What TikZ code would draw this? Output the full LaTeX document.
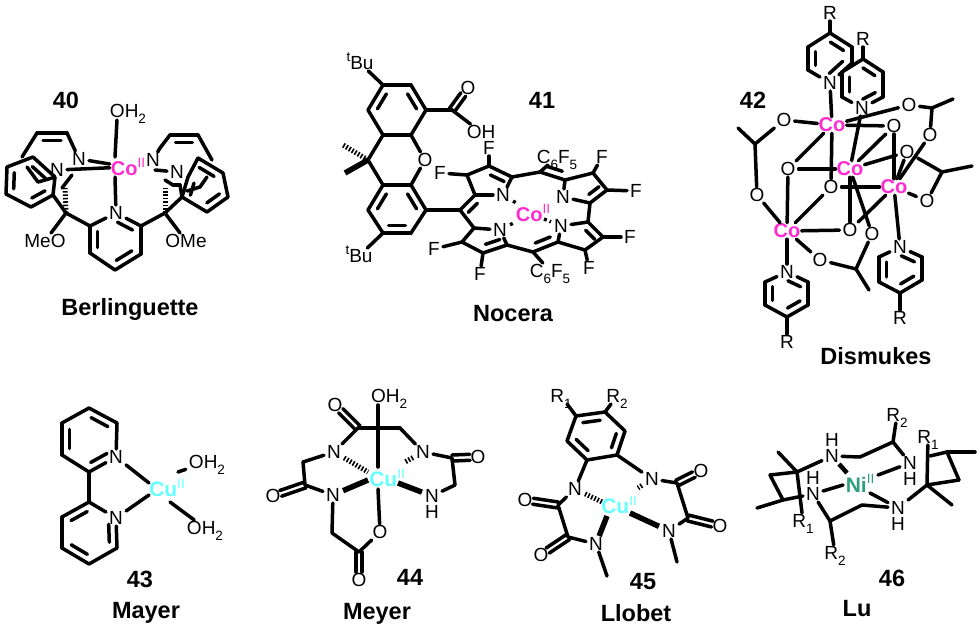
\documentclass[tikz,border=0pt]{standalone}
\usepackage{fontspec}
\setmainfont{Liberation Sans}
\usetikzlibrary{calc}
\definecolor{copink}{HTML}{FF2BD0}
\definecolor{cucyan}{HTML}{66FFFF}
\definecolor{nigreen}{HTML}{2E9E80}
\newcommand\lsub[1]{\raisebox{-.28em}{\fontsize{13.5}{13.5}\selectfont #1}}
\newcommand\lsup[1]{\raisebox{.42em}{\fontsize{13.5}{13.5}\selectfont #1}}
\newcommand\metal[2]{{\bfseries #1}\lsup{#2}}
\newcommand\coords[1]{\foreach \cn/\cx/\cy in {#1}{\coordinate (\cn) at (\cx,\cy);}}
\newcommand\bonds[1]{\foreach \ca/\cb in {#1}{\draw[bond] (\ca) -- (\cb);}}
\newcommand\inbonds[1]{\foreach \ca/\cb in {#1}{\draw[bond] ($(\ca)!.2!(\cb)!7.5pt!-90:(\cb)$) -- ($(\cb)!.2!(\ca)!7.5pt!90:(\ca)$);}}
\newcommand\dbo[2]{\draw[bond,shorten >=8pt] ($(#1)!3pt!90:(#2)$) -- ($(#2)!3pt!-90:(#1)$);\draw[bond,shorten >=8pt] ($(#1)!3pt!-90:(#2)$) -- ($(#2)!3pt!90:(#1)$);}
\newcommand\atoms[1]{\foreach \cn/\cx/\cy/\ct in {#1}{\node[atom] (\cn) at (\cx,\cy) {\ct};}}
\tikzset{
  bond/.style={line width=3.5pt,line cap=round,line join=round,black},
  wedgebond/.style={line width=5.5pt,black,line cap=butt},
  hashbond/.style={line width=5pt,black,dash pattern=on 1.6pt off 1.8pt},
  dotbond/.style={line width=3.4pt,black,dash pattern=on 3pt off 3pt},
  atom/.style={font=\fontsize{19}{19}\selectfont,inner xsep=3pt,inner ysep=1pt,text=black,text height=13.6pt,text depth=0pt},
  title/.style={font=\bfseries\fontsize{23.5}{23.5}\selectfont,inner sep=0pt},
  colabel/.style={font=\fontsize{20}{20}\selectfont,inner sep=1pt,text=copink},
  culabel/.style={font=\fontsize{21}{21}\selectfont,inner sep=1pt,text=cucyan},
  nilabel/.style={font=\fontsize{21}{21}\selectfont,inner sep=1pt,text=nigreen}
}
\begin{document}
\begin{tikzpicture}[x=1pt,y=-1pt]
\useasboundingbox (0,0) rectangle (980,632);
% ---------------- 40
\node[title] (t40) at (66,100) {40};
\node[title] (nBerl) at (130,309) {Berlinguette};
\node[colabel] (aCo) at (128,167) {\metal{Co}{II}};
\atoms{aOw/128/111/OH\lsub{2},aNu/79/159/N,aNl/57/170/N,aRu/153/160/N,aRl/177/172/N,aN/116/213/N,aOL/45/241/MeO,aOR/186/241/OMe}
\coords{a2/90/226,a3/90/253,a4/115/270,a5/141/254,a6/141/226,aqL/66/213,aqR/165/213,
 aX1/117/120,aX2/115/157,aX3/115/177,
 alp1/7/167,alp2/33/157,alp3/55/177,alp4/53/195,alp5/31/207,alp6/6/194,
 arp1/198/158,arp2/223/173,arp3/228/197,arp4/207/212,arp5/182/197,arp6/188/177,
 al1/22/157,al2/37/133,al3/67/133,al4/27/167,al5/38/182,al6/52/178,a7/72/175,a8/62/188,aH1/65/188,
 ar1/160/148,ar2/170/135,ar3/198/135,ar4/212/160,ar5/165/180,ar6/173/185,ar7/180/185,ar8/187/191,ar9/200/187,ar10/207/177,aH2/165/187,aRm/155/170}
\bonds{aX1/aX2,aX3/aN,aNu/aCo,aNl/aCo,aRm/aRl,aN/a6,a6/a5,a5/a4,a4/a3,a3/a2,a2/aN,a2/aqL,a6/aqR,aqL/aOL,aqR/aOR,
 alp1/alp2,alp2/alp3,alp3/alp4,alp4/alp5,alp5/alp6,alp6/alp1,alp4/aqL,
 arp1/arp2,arp2/arp3,arp3/arp4,arp4/arp5,arp5/arp6,arp6/arp1,arp5/aqR,
 al1/al2,al2/al3,al3/aNu,al4/al5,al5/al6,al6/aNl,a7/a8,
 ar1/ar2,ar2/ar3,ar3/ar4,ar1/aRu,ar5/ar6,ar6/ar7,ar7/arp5,ar8/ar9,ar9/ar10}
\inbonds{aN/a6,a5/a4,a3/a2,alp6/alp1,alp2/alp3,alp4/alp5,arp1/arp2,arp3/arp4,arp5/arp6,al2/al3,ar2/ar3}
\draw[hashbond] (aqL) -- (aH1);
\draw[hashbond] (aqR) -- (aH2);
% ---------------- 41
\node[title] (t41) at (542,100) {41};
\node[title] (nNoc) at (513,314) {Nocera};
\node[colabel] (bCo) at (533,213) {\metal{Co}{II}};
\atoms{bT1/360/63/\lsup{t}Bu,bT2/359/256/\lsup{t}Bu,bOc/468/88/O,bOH/481/132/OH,bO/425/160/O,
 bN1/503/195/N,bN2/500/230/N,bN3/563/197/N,bN4/561/226/N,
 bF1/440/173/F,bF2/489/148/F,bF3/602/157/F,bF4/636/191/F,bF5/630/237/F,bF6/589/268/F,bF7/480/274/F,bF8/434/249/F,
 bCa/557/157/C\lsub{6}F\lsub{5},bCb/550/271/C\lsub{6}F\lsub{5}}
\coords{b1/383/85,b2/411/85,b3/426/110,b4/411/135,b5/383/135,b6/368/110,
 b7/383/185,b8/411/185,b9/426/210,b10/411/233,b11/383/233,b12/368/210,
 bq/368/160,bM1/343/145,bM2/345/173,bC/452/110,bm0/460/210,
 u1/475/195,u2/467/175,u3/489/166,u4/512/177,
 l1/474/228,l2/462/242,l3/483/253,l4/507/245,
 bmt/540/172,bmb/533/252,
 v1/565/180,v2/593/173,v3/607/190,v4/590/203,
 w1/588/222,w2/603/237,w3/585/250,w4/558/242,bd1/544/219}
\bonds{b1/b2,b2/b3,b3/b4,b4/b5,b5/b6,b6/b1,b1/bT1,b3/bC,bC/bOH,b5/bq,bq/b7,b4/bO,bO/b8,
 b7/b8,b8/b9,b9/b10,b10/b11,b11/b12,b12/b7,b11/bT2,b9/bm0,
 bm0/u1,u1/u2,u2/u3,u3/u4,u4/bN1,bN1/u1,bm0/l1,l1/l2,l2/l3,l3/l4,l4/bN2,bN2/l1,
 u4/bmt,bmt/v1,v1/v2,v2/v3,v3/v4,v4/bN3,bN3/v1,v4/w1,w1/w2,w2/w3,w3/w4,w4/bN4,bN4/w1,
 l4/bmb,bmb/w4,u2/bF1,u3/bF2,v2/bF3,v3/bF4,w2/bF5,w3/bF6,l3/bF7,l2/bF8,bmt/bCa,bmb/bCb}
\dbo{bC}{bOc}
\inbonds{b6/b1,b2/b3,b8/b9,b10/b11,b12/b7,u3/u4,v3/v4,v1/bmt,w1/w2,w4/bmb,l4/l3,bm0/u1}
\draw[hashbond] (bq) -- (bM1);
\draw[wedgebond] (bq) -- (bM2);
\foreach \ca in {bN1,bN2}{\draw[dotbond] (\ca) -- (bCo);}
\draw[dotbond] (bd1) -- (bN4);
% ---------------- 42
\node[title] (t42) at (753,100) {42};
\node[title] (nDis) at (876,356) {Dismukes};
\node[colabel] (c1) at (832,125) {\metal{Co}{}};
\node[colabel] (c2) at (850,169) {\metal{Co}{}};
\node[colabel] (c3) at (894,187) {\metal{Co}{}};
\node[colabel] (c4) at (787,231) {\metal{Co}{}};
\atoms{o1/784/120/O,o2/788/169/O,o3/757/195/O,o4/831/187/O,o5/850/230/O,o6/872/234/O,o7/820/260/O,o8/927/201/O,o9/907/152/O,o10/930/135/O,o11/909/105/O,o12/894/126/O,
 n1/830/83/N,n2/862/108/N,n3/900/247/N,n4/787/272/N,R1/830/13/R,R2/863/39/R,R3/900/318/R,R4/787/342/R}
\coords{p1/830/33,p2/852/47,p3/852/63,p5/808/70,p6/808/47,
 q1/863/59,q2/883/72,q3/883/97,q5/842/97,q6/842/72,
 r2/922/257,r3/922/280,r4/900/293,r5/879/282,r6/879/257,
 s2/808/282,s3/808/305,s4/787/317,s5/765/305,s6/765/282,
 cA/755/144,cAm/738/128,cB/856/269,cBm/869/290,cC/932/108,cCm/953/99,cD/942/172,cDm/972/166}
\bonds{R1/p1,p1/p2,p2/p3,p3/n1,n1/p5,p5/p6,p6/p1,n1/c1,
 R2/q1,q1/q2,q2/q3,q3/n2,n2/q5,q5/q6,q6/q1,n2/c2,
 n3/r2,r2/r3,r3/r4,r4/r5,r5/r6,r6/n3,r4/R3,n3/c3,
 n4/s2,s2/s3,s3/s4,s4/s5,s5/s6,s6/n4,s4/R4,n4/c4,
 o1/c1,o1/cA,cA/cAm,cA/o3,o3/c4,o7/c4,o7/cB,cB/cBm,cB/o6,o6/c2,
 c1/o11,o11/cC,cC/cCm,cC/o10,o10/c3,o9/cD,cD/cDm,cD/o8,o8/c3,
 o9/c3,o9/c2,o12/c3,o12/c2,o12/c1,c1/o2,c1/o4,o2/c2,o2/c4,c4/o4,c4/o5,c2/o5,o4/c3,c3/o5}
\inbonds{p1/p2,p3/n1,p5/p6,q1/q2,q3/n2,q5/q6,n3/r2,r3/r4,r5/r6,n4/s2,s3/s4,s5/s6}
% ---------------- 43
\node[title] (t43) at (140,579) {43};
\node[title] (nMay) at (146,613) {Mayer};
\node[culabel] (dCu) at (167,488) {\metal{Cu}{II}};
\atoms{dN1/116/457/N,dN2/116/518/N,dO1/207/462/OH\lsub{2},dO2/205/528/OH\lsub{2}}
\coords{d1/89/472,d2/62/455,d3/62/423,d4/89/408,d5/117/423,
 d6/89/502,d7/62/517,d8/62/548,d9/89/564,d10/117/548,
 dA/149/483,dB/149/495,dC/178/472,dD/170/502}
\bonds{d1/d2,d2/d3,d3/d4,d4/d5,d5/dN1,dN1/d1,d1/d6,d6/d7,d7/d8,d8/d9,d9/d10,d10/dN2,dN2/d6,dN1/dA,dN2/dB,dC/dO1,dD/dO2}
\inbonds{dN1/d1,d2/d3,d4/d5,d7/d6,d9/d8,dN2/d10}
% ---------------- 44
\node[title] (t44) at (410,577) {44};
\node[title] (nMey) at (377,614) {Meyer};
\node[culabel] (eCu) at (387,478) {\metal{Cu}{II}};
\atoms{eOw/389/396/OH\lsub{2},eO1/335/405/O,eN1/334/452/N,eN2/333/495/N,eO2/273/496/O,eN3/423/452/N,eO3/478/457/O,eN4/432/496/N,eH/432/512/H,eO4/380/532/O,eO5/359/580/O}
\coords{e1/358/428,e2/400/428,e3/303/462,e4/305/485,e5/452/458,e6/455/485,e7/332/533,e8/359/552,eB1/378/405,eB2/378/467,eB3/378/489,
 eh1/368/472,eh2/405/462,ew1/368/480,ew2/398/483}
\bonds{e1/eN1,e1/e2,e2/eN3,eN1/e3,e3/e4,e4/eN2,eN2/e7,e7/e8,e8/eO4,eN3/e5,e5/e6,e6/eN4,eB1/eB2,eB3/eO4}
\dbo{e1}{eO1}\dbo{e4}{eO2}\dbo{e5}{eO3}\dbo{e8}{eO5}
\draw[hashbond] (eN1) -- (eh1);
\draw[hashbond] (eN3) -- (eh2);
\draw[wedgebond] (eN2) -- (ew1);
\draw[wedgebond] (eN4) -- (ew2);
% ---------------- 45
\node[title] (t45) at (643,582) {45};
\node[title] (nLlo) at (636,613) {Llobet};
\node[culabel] (fCu) at (619,505) {\metal{Cu}{II}};
\atoms{fR1/561/396/R\lsub{1},fR2/617/396/R\lsub{2},fN1/575/489/N,fN2/652/479/N,fN3/596/544/N,fN4/669/531/N,fO1/525/500/O,fO2/541/555/O,fO3/701/471/O,fO4/720/526/O}
\coords{f1/576/416,f2/605/412,f3/625/431,f4/617/455,f5/587/460,f6/567/441,f7/558/505,f8/568/537,f9/677/483,f10/688/518,fm1/607/576,fm2/677/562,
 fh1/602/502,fh2/638/488,fw1/607/516,fw2/630/513}
\bonds{f1/f2,f2/f3,f3/f4,f4/f5,f5/f6,f6/f1,f1/fR1,f2/fR2,f5/fN1,f4/fN2,fN1/f7,f7/f8,f8/fN3,fN3/fm1,fN2/f9,f9/f10,f10/fN4,fN4/fm2}
\inbonds{f1/f2,f3/f4,f5/f6}
\dbo{f7}{fO1}\dbo{f8}{fO2}\dbo{f9}{fO3}\dbo{f10}{fO4}
\draw[hashbond] (fN1) -- (fh1);
\draw[hashbond] (fN2) -- (fh2);
\draw[wedgebond] (fw1) -- (fN3);
\draw[wedgebond] (fw2) -- (fN4);
% ---------------- 46
\node[title] (t46) at (892,578) {46};
\node[title] (nLu) at (857,609) {Lu};
\node[nilabel] (gNi) at (860,483) {\metal{Ni}{II}};
\atoms{gN1/832/456/N,gH1/832/440/H,gN2/910/463/N,gH2/910/479/H,gN3/813/494/N,gH3/813/478/H,gN4/898/508/N,gH4/898/524/H,
 gR1/897/415/R\lsub{2},gR2/928/437/R\lsub{1},gR3/803/521/R\lsub{1},gR4/835/553/R\lsub{2}}
\coords{g1/860/457,g2/893/442,g3/862/505,g4/830/521,g5/797/472,g6/778/452,g7/770/475,g8/783/500,g9/757/508,
 g10/927/485,g11/952/505,g12/959/480,g13/947/452,g14/975/452,g15/930/456,
 gA/847/473,gB/843/485,gC/878/475,gD/870/493}
\bonds{gN1/g1,g1/g2,g2/gN2,g2/gR1,gN3/g4,g4/g3,g3/gN4,g4/gR4,gN1/g5,g5/g6,g5/g7,g7/g8,g8/gN3,g8/g9,g5/gR3,gN4/g10,g10/g11,g10/g12,g12/g13,g13/g14,g13/g15,g10/gR2,gB/gN3,gC/gN2,gD/gN4}
\draw[wedgebond,line width=4.5pt] (gN1) -- (gA);
\end{tikzpicture}
\end{document}
